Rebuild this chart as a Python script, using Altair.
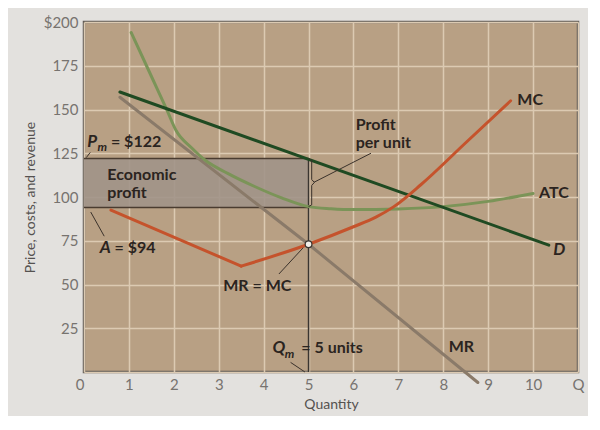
import altair as alt
import pandas as pd

# ---- data ----
d_q = [0.8, 10.35]
d_p = [160, 72.5]
mr_q = [0.8, 5, 8.77]
mr_p = [157, 73, -6]
mc_left_q = [0.6, 3.5]
mc_left_p = [92.5, 60.5]
mc_right_q = [3.5, 5, 6, 6.5, 6.9, 7.5, 8.5, 9.5]
mc_right_p = [60.5, 73, 83, 88.5, 94.5, 107, 131, 155]
atc_q = [1.05, 1.5, 1.85, 2.05, 2.4, 2.7, 3.2, 3.8, 4.4, 5, 5.5, 6, 7, 8, 9, 10]
atc_p = [194, 169, 149.5, 138, 128, 121, 113.5, 106, 99.5, 94.5, 93.3, 92.8, 93.2, 94.5, 97.5, 102]

q_m = 5
p_m = 122
a_cost = 94
x_ticks = list(range(0, 12))
y_ticks = [0, 25, 50, 75, 100, 125, 150, 175, 200]

FONT = "Lato"
INK = "#2b2420"
GUIDE = "#3b322b"

xs = alt.Scale(domain=[0, 11], nice=False, zero=False)
ys = alt.Scale(domain=[0, 200], nice=False, zero=False)

x_axis = alt.Axis(
    values=x_ticks, title="Quantity", grid=True, ticks=False, domain=False,
    labelExpr="datum.value == 11 ? 'Q' : datum.label",
    labelAlign={"condition": {"test": "datum.value == 0", "value": "right"}, "value": "center"},
    labelPadding=5, titlePadding=5,
)
y_axis = alt.Axis(
    values=y_ticks, title="Price, costs, and revenue", grid=True, ticks=False, domain=False,
    labelExpr="datum.value == 0 ? '' : (datum.value == 200 ? '$200' : datum.label)",
    labelPadding=6, titlePadding=6,
)


def X(f="q"):
    return alt.X(f, type="quantitative", scale=xs, axis=x_axis)


def Y(f="p"):
    return alt.Y(f, type="quantitative", scale=ys, axis=y_axis)


def curve(qs, ps, color, interp="linear"):
    df = pd.DataFrame({"q": qs, "p": ps, "o": list(range(len(qs)))})
    return alt.Chart(df).mark_line(color=color, strokeWidth=3, interpolate=interp, strokeCap="round").encode(
        x=X(), y=Y(), order="o:Q")


# profit rectangle
rect_df = pd.DataFrame({"q": [0], "q2": [q_m], "p": [a_cost], "p2": [p_m]})
rect = alt.Chart(rect_df).mark_rect(color="#a19388", opacity=0.9).encode(
    x=X(), x2="q2", y=Y(), y2="p2")

hlines_df = pd.DataFrame({"q": [0, 0], "q2": [q_m, q_m], "p": [p_m, a_cost]})
hlines = alt.Chart(hlines_df).mark_rule(color="#4a3c30", strokeWidth=1.5).encode(
    x=X(), x2="q2", y=Y())

vline_df = pd.DataFrame({"q": [q_m], "p": [0], "p2": [p_m]})
vline = alt.Chart(vline_df).mark_rule(color="#3a3530", strokeWidth=1.5).encode(
    x=X(), y=Y(), y2="p2")

mr = curve(mr_q, mr_p, "#8a7a69")
atc = curve(atc_q, atc_p, "#7b9458", "monotone")
dd = curve(d_q, d_p, "#1f4a22")
mc_l = curve(mc_left_q, mc_left_p, "#c5532c")
mc_r = curve(mc_right_q, mc_right_p, "#c5532c", "monotone")

pt = alt.Chart(pd.DataFrame({"q": [q_m], "p": [73]})).mark_point(
    filled=True, fill="#f2efe8", stroke="#3a3530", strokeWidth=1.2, size=45, opacity=1).encode(x=X(), y=Y())

# leader lines and brace
lead_id = ["pm", "pm", "a", "a", "eq", "eq", "qm", "qm", "pu", "pu",
           "br", "br", "br", "br", "br", "br", "br"]
lead_q = [0.05, 0.14, 0.15, 0.45, 4.34, 4.88, 4.6, 4.92, 6.39, 5.12,
          5.0, 5.07, 5.07, 5.13, 5.07, 5.07, 5.0]
lead_p = [122.5, 125.5, 91.4, 77.6, 56, 71, 5.5, 0, 125, 108.4,
          122, 121, 110, 108.3, 106.6, 95.5, 94.5]
lead_df = pd.DataFrame({"id": lead_id, "q": lead_q, "p": lead_p, "o": list(range(len(lead_q)))})
leaders = alt.Chart(lead_df).mark_line(color=GUIDE, strokeWidth=1).encode(
    x=X(), y=Y(), detail="id:N", order="o:Q")

# labels
lab_text = ["P", "= $122", "Economic", "profit", "A", "= $94", "MR = MC", "Q", "= 5 units",
            "MR", "MC", "ATC", "D", "Profit", "per unit"]
lab_q = [0.07, 0.6, 0.52, 0.52, 0.35, 0.68, 3.1, 4.2, 4.84,
         8.12, 9.65, 10.13, 10.45, 6.05, 6.05]
lab_p = [131.5, 131.5, 112.5, 102.5, 71, 71, 49, 13.5, 13.5,
         14.5, 155.5, 102.5, 70, 141, 131]
lab_style = ["italic", "normal", "normal", "normal", "italic", "normal", "normal", "italic", "normal",
             "normal", "normal", "normal", "italic", "normal", "normal"]
lab_df = pd.DataFrame({"t": lab_text, "q": lab_q, "p": lab_p, "s": lab_style})
labels_n = alt.Chart(lab_df[lab_df.s == "normal"]).mark_text(
    align="left", baseline="middle", font=FONT, fontWeight="bold", fontSize=16, color=INK).encode(
    x=X(), y=Y(), text="t:N")
labels_i = alt.Chart(lab_df[lab_df.s == "italic"]).mark_text(
    align="left", baseline="middle", font=FONT, fontWeight="bold", fontStyle="italic", fontSize=17, color=INK).encode(
    x=X(), y=Y(), text="t:N")

sub_text = ["m", "m"]
sub_q = [0.3, 4.47]
sub_p = [128.5, 10.5]
sub_df = pd.DataFrame({"t": sub_text, "q": sub_q, "p": sub_p})
subs = alt.Chart(sub_df).mark_text(
    align="left", baseline="middle", font=FONT, fontWeight="bold", fontStyle="italic", fontSize=12, color=INK).encode(
    x=X(), y=Y(), text="t:N")

chart = alt.layer(
    rect, hlines, vline, mr, atc, dd, mc_l, mc_r, leaders, pt, labels_n, labels_i, subs
).properties(
    width=494, height=350,
    autosize=alt.AutoSizeParams(type="none"),
    padding={"left": 76, "top": 14, "right": 10, "bottom": 44},
    background="#e3e1de",
).configure_view(
    fill="#b8a084", stroke="#5f5a55", strokeWidth=2.5,
).configure_axis(
    gridColor="#dccab2", gridWidth=1.5, gridOpacity=1,
    labelFont=FONT, labelFontSize=15, labelColor="#77736f",
    titleFont=FONT, titleFontSize=14, titleColor="#555250", titleFontWeight="normal",
)

chart.save("out.html", embed_options={"renderer": "svg", "actions": False})
